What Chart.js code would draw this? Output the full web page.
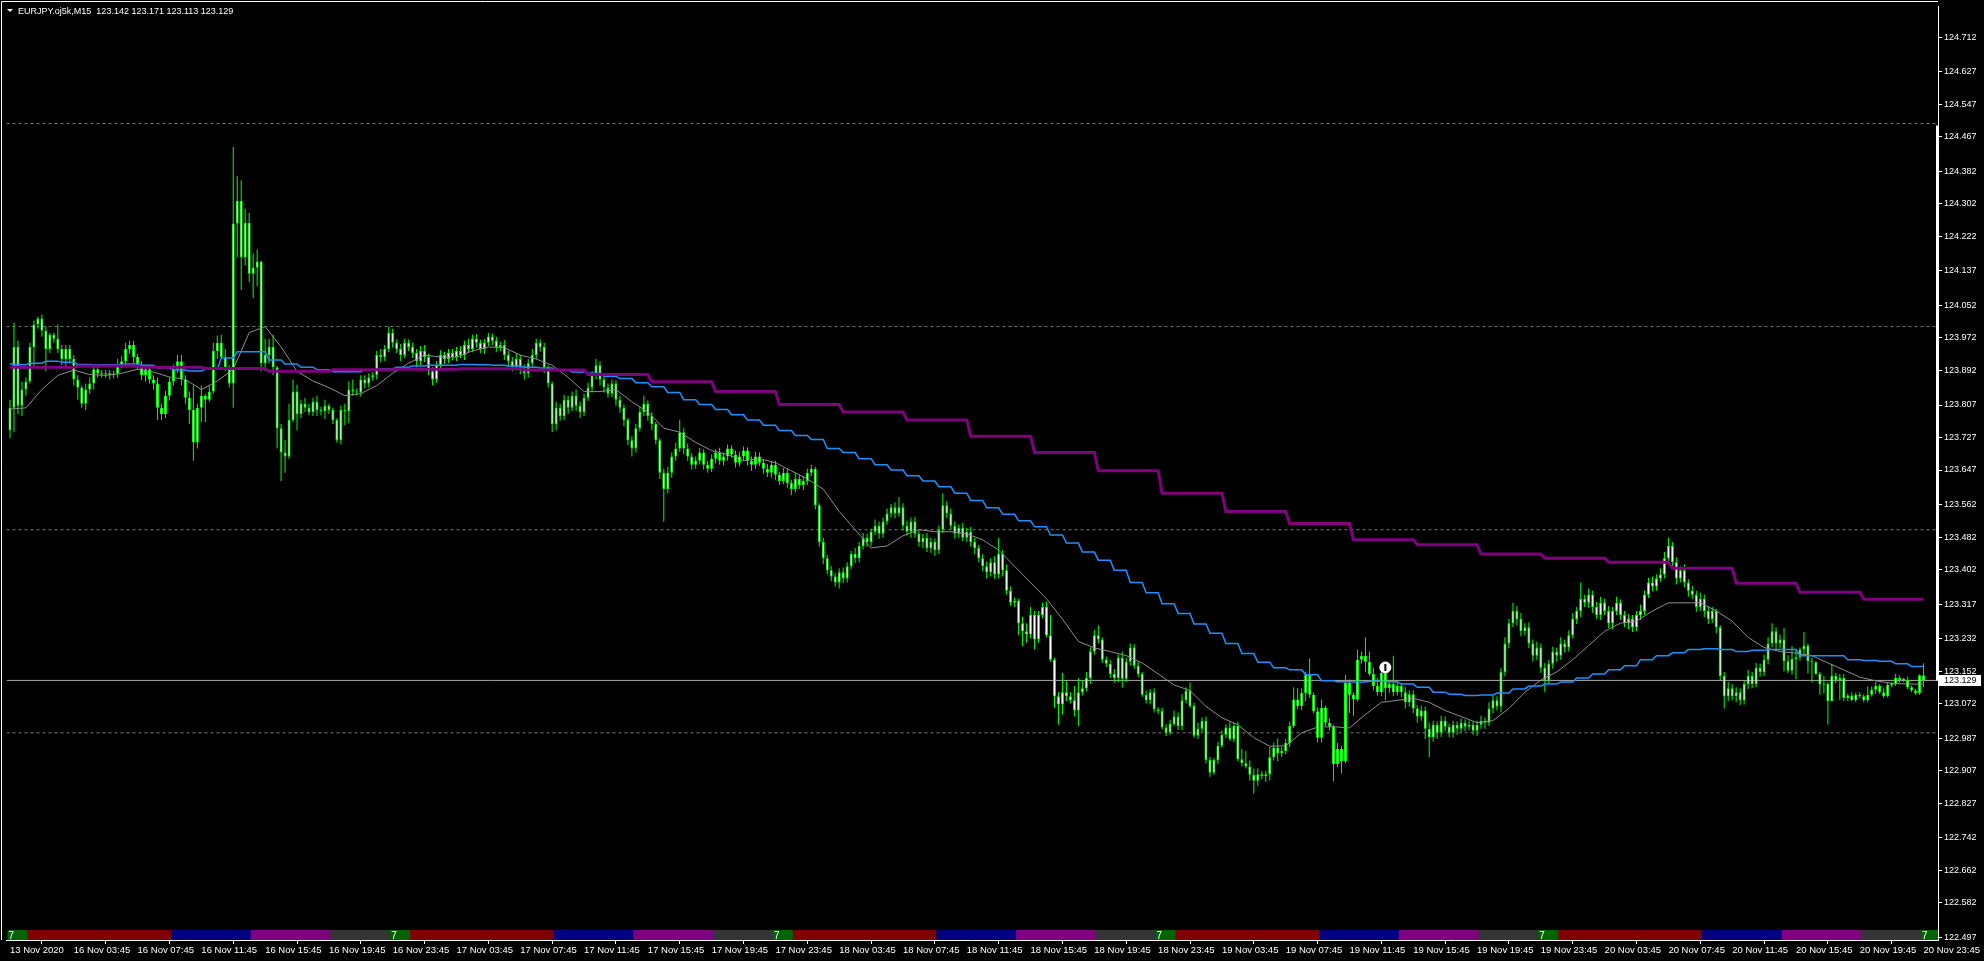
<!DOCTYPE html>
<html lang="en">
<head>
<meta charset="UTF-8">
<title>EURJPY.oj5k,M15</title>
<style>
  html, body { margin: 0; padding: 0; background: #000; overflow: hidden; }
  canvas { display: block; background: #000; }
</style>
</head>
<body>
<canvas id="chart" width="1984" height="961"></canvas>
<script src="https://cdn.jsdelivr.net/npm/chart.js"></script>
<script>
const symbolName = 'EURJPY.oj5k,M15';
const firstOpen = 123.745;

// M15 closes, bar 0 = 13 Nov 23:45, bar 480 = 20 Nov 23:45
const closes = [
  123.800,123.950,123.805,123.845,123.865,123.950,124.005,124.020,123.990,123.945,123.980,123.970,123.945,123.920,123.945,123.920,
  123.870,123.850,123.810,123.845,123.860,123.895,123.885,123.882,123.885,123.880,123.884,123.905,123.915,123.945,123.955,123.925,
  123.905,123.880,123.895,123.870,123.860,123.800,123.785,123.830,123.865,123.895,123.915,123.870,123.825,123.795,123.715,123.800,
  123.830,123.820,123.840,123.940,123.960,123.925,123.900,123.860,124.254,124.310,124.170,124.255,124.130,124.145,124.160,123.910,
  123.930,123.950,123.900,123.750,123.690,123.680,123.770,123.840,123.785,123.810,123.800,123.790,123.815,123.795,123.792,123.805,
  123.795,123.770,123.720,123.795,123.792,123.845,123.840,123.838,123.870,123.860,123.875,123.880,123.930,123.925,123.945,123.985,
  123.960,123.945,123.930,123.960,123.950,123.935,123.915,123.940,123.925,123.890,123.870,123.905,123.930,123.920,123.935,123.925,
  123.940,123.930,123.955,123.945,123.970,123.960,123.945,123.960,123.975,123.965,123.950,123.955,123.930,123.915,123.900,123.920,
  123.895,123.885,123.910,123.930,123.960,123.950,123.900,123.860,123.760,123.800,123.780,123.820,123.800,123.830,123.805,123.790,
  123.825,123.850,123.880,123.905,123.870,123.850,123.835,123.860,123.820,123.800,123.770,123.720,123.700,123.750,123.790,123.810,
  123.780,123.760,123.720,123.640,123.600,123.640,123.680,123.700,123.740,123.700,123.680,123.660,123.670,123.690,123.660,123.650,
  123.675,123.690,123.670,123.680,123.700,123.685,123.665,123.680,123.695,123.670,123.660,123.680,123.665,123.650,123.640,123.660,
  123.635,123.620,123.640,123.615,123.600,123.625,123.610,123.620,123.640,123.650,123.560,123.470,123.430,123.400,123.385,123.370,
  123.395,123.380,123.410,123.440,123.430,123.460,123.480,123.470,123.495,123.510,123.490,123.520,123.540,123.555,123.540,123.555,
  123.510,123.495,123.520,123.490,123.470,123.480,123.455,123.470,123.450,123.500,123.560,123.540,123.510,123.490,123.505,123.480,
  123.495,123.470,123.455,123.430,123.410,123.395,123.420,123.390,123.440,123.400,123.350,123.320,123.325,123.270,123.250,123.242,
  123.290,123.230,123.290,123.310,123.240,123.180,123.090,123.070,123.100,123.090,123.080,123.055,123.100,123.110,123.135,123.200,
  123.240,123.230,123.180,123.170,123.145,123.135,123.185,123.133,123.175,123.210,123.165,123.145,123.094,123.080,123.100,123.058,
  123.054,123.013,123.000,123.022,123.040,123.017,123.080,123.104,123.066,122.993,123.010,123.030,122.933,122.902,122.933,122.968,
  122.995,123.013,122.985,123.017,122.935,122.925,122.917,122.897,122.882,122.898,122.894,122.898,122.940,122.964,122.950,122.955,
  122.975,123.017,123.082,123.066,123.098,123.143,123.094,123.053,122.988,123.062,123.025,123.015,122.923,122.960,122.930,123.123,
  123.094,123.082,123.180,123.190,123.175,123.145,123.115,123.100,123.147,123.110,123.120,123.100,123.115,123.100,123.075,123.095,
  123.060,123.040,123.055,123.010,122.990,123.020,123.000,123.030,123.015,123.000,123.020,123.010,123.025,123.015,123.020,123.005,
  123.020,123.030,123.025,123.060,123.080,123.065,123.150,123.220,123.270,123.300,123.280,123.250,123.260,123.220,123.190,123.210,
  123.160,123.130,123.170,123.200,123.190,123.220,123.210,123.240,123.280,123.300,123.330,123.320,123.340,123.310,123.290,123.320,
  123.300,123.270,123.300,123.320,123.290,123.270,123.280,123.260,123.290,123.300,123.340,123.370,123.360,123.380,123.390,123.430,
  123.460,123.420,123.380,123.400,123.370,123.350,123.340,123.310,123.330,123.300,123.280,123.300,123.260,123.140,123.090,123.110,
  123.090,123.100,123.080,123.120,123.140,123.120,123.160,123.150,123.180,123.220,123.250,123.220,123.230,123.176,123.153,123.182,
  123.186,123.205,123.215,123.176,123.174,123.145,123.119,123.120,123.078,123.140,123.130,123.135,123.086,123.092,123.080,123.094,
  123.090,123.080,123.094,123.106,123.115,123.100,123.090,123.118,123.120,123.135,123.130,123.130,123.112,123.104,123.098,123.142,
  123.129
];

// wick lengths above / below the body, in 0.001
const upWick = [
  20,60,15,20,10,10,10,5,10,10,5,5,35,10,10,10,
  10,10,5,15,15,10,10,8,8,8,8,15,12,15,10,10,
  8,10,10,8,10,15,10,12,10,12,15,15,10,15,60,10,
  25,5,15,20,18,20,20,5,188,60,50,35,25,35,30,2,
  40,20,30,3,10,30,40,30,17,10,15,10,10,15,8,15,
  5,5,5,10,15,20,25,8,10,10,10,8,10,15,10,15,
  10,8,12,10,8,10,10,12,15,8,10,10,12,8,10,10,
  10,12,10,15,10,12,8,10,10,8,10,8,12,10,10,15,
  10,12,10,15,10,8,10,5,5,15,10,12,10,10,15,10,
  10,12,10,15,10,8,10,10,8,10,8,5,10,10,12,20,
  8,10,5,5,10,15,10,15,30,10,12,8,10,12,8,10,
  10,8,12,10,10,8,10,12,10,8,10,12,10,8,12,10,
  10,8,12,10,8,15,10,12,10,10,5,5,10,8,10,8,
  10,12,10,8,15,10,12,10,8,15,10,10,12,8,12,25,
  10,12,10,12,8,10,12,10,8,10,30,10,12,10,8,12,
  10,12,10,8,10,12,10,15,40,10,15,10,8,5,16,20,
  20,10,10,10,13,50,5,10,47,27,10,35,35,20,15,10,
  14,25,5,8,10,12,8,15,10,10,8,10,5,10,8,10,
  5,8,8,10,15,10,15,8,20,8,15,8,10,8,5,10,
  10,8,15,8,10,25,30,15,15,15,8,8,25,12,22,10,
  10,10,30,28,12,8,40,5,10,20,5,10,5,15,8,20,
  8,5,25,10,45,25,15,20,10,5,10,70,10,8,12,10,
  10,8,12,10,15,10,8,12,10,8,10,8,10,8,10,8,
  10,12,8,15,12,10,10,15,10,20,12,15,10,12,10,15,
  10,12,10,12,10,15,10,12,15,10,40,10,15,10,12,15,
  10,12,10,15,8,10,12,10,10,15,10,12,15,10,15,15,
  20,10,12,10,15,8,12,10,15,10,12,10,5,5,10,15,
  10,12,10,8,15,10,12,10,12,15,20,10,12,28,15,31,
  18,5,33,5,8,3,5,20,5,30,8,10,10,5,8,5,
  6,5,20,8,10,5,10,5,5,10,6,5,8,4,4,2,
  29
];
const downWick = [
  20,60,20,25,15,5,50,10,15,55,10,10,10,15,20,10,
  15,30,10,15,10,15,10,8,8,10,8,10,8,10,12,15,
  10,12,15,10,15,30,15,10,12,10,8,15,15,35,45,15,
  35,55,5,5,20,5,10,10,60,84,80,20,20,60,45,20,
  20,20,20,50,70,40,5,5,40,10,10,8,10,15,10,20,
  10,10,5,10,35,30,10,8,10,12,10,8,10,12,10,8,
  12,10,15,8,10,12,15,10,12,10,15,8,10,12,10,8,
  10,8,12,10,8,12,10,12,8,10,12,10,12,15,10,8,
  12,15,10,8,10,12,15,10,20,15,12,10,15,8,12,15,
  10,8,12,10,15,12,10,8,15,12,15,12,20,10,8,10,
  12,15,10,15,80,10,12,10,8,15,10,12,10,8,12,10,
  8,12,10,12,10,8,12,10,10,12,15,10,8,12,10,12,
  12,10,8,12,15,8,10,12,10,8,10,12,15,10,12,10,
  15,12,10,8,12,10,8,12,10,8,12,10,8,10,12,8,
  12,10,15,10,12,15,10,12,15,10,8,12,10,12,10,8,
  10,12,15,10,12,15,10,12,10,15,10,8,10,30,37,20,
  10,25,8,8,5,5,28,50,25,12,8,15,38,8,8,15,
  8,10,8,8,10,12,10,22,8,10,8,8,5,8,10,8,
  8,5,8,5,5,10,10,8,5,5,8,8,8,10,5,10,
  5,8,5,8,5,8,5,15,32,12,8,15,15,8,20,10,
  8,10,5,8,10,20,8,5,12,12,8,10,42,8,30,5,
  45,40,5,10,25,5,10,8,10,30,12,10,8,12,15,10,
  12,15,10,25,50,12,15,10,12,10,12,15,10,12,8,10,
  12,10,15,8,12,10,15,10,12,10,15,12,10,12,15,10,
  12,30,10,12,15,10,12,10,8,12,15,10,12,15,10,12,
  10,12,15,10,12,10,15,12,10,12,10,8,12,10,8,10,
  12,10,15,10,12,15,10,12,10,15,12,10,15,10,30,12,
  10,15,12,10,12,10,8,12,10,12,10,15,12,25,6,10,
  50,8,12,30,50,2,25,22,58,0,8,50,8,8,2,5,
  5,5,5,5,10,5,5,3,5,5,6,5,5,4,4,4,
  16
];

// thin gray MA, read every 4th bar
const grayMA = [
  123.797,123.800,123.845,123.880,123.893,123.882,123.880,123.885,123.895,123.888,123.876,123.870,123.845,123.866,123.895,123.985,
  124.000,123.950,123.890,123.866,123.850,123.830,123.835,123.855,123.885,123.910,123.930,123.925,123.925,123.940,123.950,123.948,
  123.930,123.920,123.905,123.875,123.840,123.840,123.845,123.815,123.790,123.750,123.740,123.715,123.695,123.685,123.670,123.675,
  123.665,123.645,123.625,123.600,123.545,123.500,123.455,123.460,123.485,123.500,123.495,123.495,123.490,123.475,123.450,123.410,
  123.370,123.330,123.280,123.225,123.209,123.200,123.190,123.172,123.145,123.118,123.104,123.065,123.037,123.020,122.988,122.967,
  122.968,123.000,123.014,123.015,123.012,123.045,123.075,123.080,123.085,123.075,123.055,123.040,123.025,123.030,123.060,123.100,
  123.130,123.150,123.180,123.215,123.250,123.270,123.275,123.300,123.320,123.320,123.320,123.300,123.275,123.235,123.210,123.200,
  123.196,123.190,123.172,123.155,123.137,123.128,123.122,123.120,123.120
];
// blue H1 MA, one value per hour (bar 0, then 4 bars each)
const blueMA = [
  123.909,123.906,123.910,123.915,123.912,123.907,123.906,123.906,123.908,123.905,123.898,123.893,123.891,123.895,123.923,123.938,
  123.938,123.918,123.908,123.900,123.894,123.889,123.889,123.894,123.896,123.900,123.903,123.905,123.905,123.907,123.906,123.905,
  123.903,123.900,123.898,123.893,123.888,123.885,123.878,123.872,123.862,123.852,123.838,123.820,123.808,123.796,123.783,123.770,
  123.757,123.744,123.732,123.722,123.700,123.690,123.675,123.660,123.647,123.633,123.620,123.606,123.590,123.572,123.554,123.538,
  123.522,123.507,123.487,123.467,123.445,123.425,123.400,123.370,123.345,123.318,123.294,123.268,123.245,123.220,123.195,123.174,
  123.160,123.155,123.143,123.128,123.126,123.125,123.127,123.126,123.120,123.112,123.100,123.095,123.092,123.093,123.098,123.108,
  123.115,123.120,123.125,123.135,123.145,123.155,123.165,123.180,123.190,123.197,123.205,123.207,123.205,123.200,123.203,123.205,
  123.205,123.190,123.190,123.190,123.180,123.178,123.176,123.170,123.163
];
// purple H4 MA, one value per 4 hours (bar 0, then 16 bars each)
const purpleMA = [
  123.900,123.900,123.903,123.900,123.897,123.890,123.894,123.895,123.896,123.893,123.882,123.864,123.840,123.808,123.790,123.770,
  123.730,123.690,123.645,123.590,123.545,123.515,123.475,123.463,123.440,123.430,123.420,123.405,123.368,123.346,123.329
];

const gridLevels = [124.5, 124.0, 123.5, 123.0];
const priceTicks = [124.712,124.627,124.547,124.467,124.382,124.302,124.222,124.137,124.052,123.972,123.892,123.807,123.727,123.647,
  123.562,123.482,123.402,123.317,123.232,123.152,123.072,122.987,122.907,122.827,122.742,122.662,122.582,122.497];
const timeLabels = ['13 Nov 2020',
  '16 Nov 03:45','16 Nov 07:45','16 Nov 11:45','16 Nov 15:45','16 Nov 19:45','16 Nov 23:45',
  '17 Nov 03:45','17 Nov 07:45','17 Nov 11:45','17 Nov 15:45','17 Nov 19:45','17 Nov 23:45',
  '18 Nov 03:45','18 Nov 07:45','18 Nov 11:45','18 Nov 15:45','18 Nov 19:45','18 Nov 23:45',
  '19 Nov 03:45','19 Nov 07:45','19 Nov 11:45','19 Nov 15:45','19 Nov 19:45','19 Nov 23:45',
  '20 Nov 03:45','20 Nov 07:45','20 Nov 11:45','20 Nov 15:45','20 Nov 19:45','20 Nov 23:45'];

// trading sessions strip (bars per session, one day = 96 bars)
const sessionLen = [5, 36, 20, 20, 15];
const sessionColors = ['#006400', '#800000', '#000080', '#800080', '#353535'];
const sessionText = '7';

const rangeTop = 124.495;
const eventBars = [345];
const eventPrices = [123.161];

// ---- scale geometry
const xMin = -0.875, xMax = 483.625;
const yMin = 122.490, yMax = 124.788;
const stripTop = 122.5145;

const candles = closes.map((c, i) => {
  const o = i === 0 ? firstOpen : closes[i - 1];
  const top = Math.max(o, c), bot = Math.min(o, c);
  return { o: o, c: c, h: top + upWick[i] / 1000, l: bot - downWick[i] / 1000 };
});
const last = candles[candles.length - 1];

const dayBars = sessionLen.reduce((a, b) => a + b, 0);
const sessionData = [], sessionFill = [], sessionStarts = [];
for (let i = 0; i <= 484; i++) {
  let d = i % dayBars, s = 0;
  if (d === 0) sessionStarts.push(i);
  while (d >= sessionLen[s]) { d -= sessionLen[s]; s++; }
  sessionData.push({ x: i, y: [yMin, stripTop] });
  sessionFill.push(sessionColors[s]);
}

const LIME = '#00ff00';

const decor = {
  id: 'decor',
  afterDraw(chart) {
    const { ctx, chartArea: a, scales: { x, y } } = chart;
    ctx.save();
    ctx.strokeStyle = '#ffffff';
    ctx.lineWidth = 1;
    ctx.beginPath();
    ctx.moveTo(1.5, a.bottom); ctx.lineTo(1.5, 1.5); ctx.lineTo(a.right, 1.5);
    ctx.stroke();

    // "7" markers on the session strip
    ctx.fillStyle = '#ffffff';
    ctx.font = "10px 'Liberation Sans', Arial, sans-serif";
    ctx.textBaseline = 'alphabetic';
    ctx.textAlign = 'left';
    sessionStarts.forEach(i => {
      ctx.fillText(sessionText, x.getPixelForValue(i) - 1.5, a.bottom - 1.5);
    });

    // thick range bar on the price scale
    const yt = y.getPixelForValue(rangeTop), yb = y.getPixelForValue(last.c);
    ctx.fillRect(a.right - 2, yt, 3, yb - yt);

    // current price label
    const py = Math.round(y.getPixelForValue(last.c));
    ctx.fillRect(a.right + 1, py - 5, 42, 11);
    ctx.fillStyle = '#000000';
    ctx.font = "9px 'Liberation Sans', Arial, sans-serif";
    ctx.textBaseline = 'middle';
    ctx.fillText(last.c.toFixed(3), a.right + 6, py + 0.5);

    // header
    ctx.fillStyle = '#ffffff';
    ctx.beginPath();
    ctx.moveTo(7, 9); ctx.lineTo(13, 9); ctx.lineTo(10, 12); ctx.closePath();
    ctx.fill();
    ctx.font = "9px 'Liberation Sans', Arial, sans-serif";
    ctx.textBaseline = 'alphabetic';
    const head = symbolName + '  ' + [last.o, last.h, last.l, last.c].map(v => v.toFixed(3)).join(' ');
    ctx.fillText(head, 18, 14);
    ctx.restore();
  }
};

const ctx = document.getElementById('chart');
const axisGrid = { display: true, drawOnChartArea: false, drawTicks: true, tickLength: 4, tickColor: '#ffffff', tickWidth: 1 };
const axisBorder = { display: true, color: '#ffffff', width: 1 };

new Chart(ctx, {
  data: {
    datasets: [
      { type: 'bar', label: 'sessions', data: sessionData, backgroundColor: sessionFill, borderWidth: 0,
        barThickness: 5, grouped: false, inflateAmount: 0, order: 10 },
      ...gridLevels.map(v => ({ type: 'line', label: 'grid', data: [{ x: xMin, y: v }, { x: xMax, y: v }],
        borderColor: '#7a7a7a', borderWidth: 1, borderDash: [3, 3], pointRadius: 0, order: 9 })),
      { type: 'line', label: 'bid', data: [{ x: xMin, y: last.c }, { x: xMax, y: last.c }],
        borderColor: '#a8a8a8', borderWidth: 1, pointRadius: 0, order: 8 },
      { type: 'bar', label: 'wicks', data: candles.map((k, i) => ({ x: i, y: [k.l, k.h] })),
        backgroundColor: LIME, borderWidth: 0, barThickness: 1, grouped: false, inflateAmount: 0, minBarLength: 1, order: 7 },
      { type: 'bar', label: 'bodies', data: candles.map((k, i) => ({ x: i, y: [k.o, k.c] })),
        backgroundColor: '#ffffff', borderColor: LIME, borderWidth: 1, borderSkipped: false,
        barThickness: 3, grouped: false, inflateAmount: 0, minBarLength: 1, order: 6 },
      { type: 'line', label: 'MA', data: grayMA.map((v, k) => ({ x: k * 4, y: v })),
        borderColor: '#8e8e8e', borderWidth: 1, pointRadius: 0, tension: 0, order: 5 },
      { type: 'line', label: 'MA H1', data: closes.map((_, i) => ({ x: i, y: blueMA[Math.ceil(i / 4)] })),
        borderColor: '#1e90ff', borderWidth: 1.5, pointRadius: 0, tension: 0, order: 4 },
      { type: 'line', label: 'MA H4', data: closes.map((_, i) => ({ x: i, y: purpleMA[Math.ceil(i / 16)] })),
        borderColor: '#800080', borderWidth: 3, pointRadius: 0, tension: 0, order: 3 },
      { type: 'scatter', label: 'event', data: eventBars.map((b, k) => ({ x: b, y: eventPrices[k] })),
        pointStyle: 'circle', pointRadius: 5.5, backgroundColor: '#ffffff', borderColor: '#ffffff', borderWidth: 1, order: 2 },
      { type: 'scatter', label: 'event mark', data: eventBars.map((b, k) => ({ x: b, y: eventPrices[k] })),
        pointStyle: 'line', rotation: 90, pointRadius: 3.5, borderColor: '#000000', borderWidth: 2, order: 1 }
    ]
  },
  options: {
    responsive: false,
    animation: false,
    events: [],
    layout: { padding: { top: 2, left: 0, right: 0, bottom: 0 } },
    plugins: { legend: { display: false }, tooltip: { enabled: false } },
    scales: {
      x: {
        type: 'linear', min: xMin, max: xMax, bounds: 'data', offset: false,
        grid: axisGrid, border: axisBorder,
        ticks: {
          autoSkip: false, maxRotation: 0, minRotation: 0, align: 'start', padding: 1, color: '#ffffff',
          font: { family: "'Liberation Sans', Arial, sans-serif", size: 9.5 },
          callback: (v, i) => timeLabels[i]
        },
        afterBuildTicks: s => { s.ticks = timeLabels.map((_, k) => ({ value: k * 16 })); },
        afterFit: s => { s.height = 21; s.paddingLeft = 0; s.paddingRight = 0; }
      },
      y: {
        type: 'linear', position: 'right', min: yMin, max: yMax, bounds: 'data',
        grid: axisGrid, border: axisBorder,
        ticks: {
          autoSkip: false, padding: 2, color: '#ffffff',
          font: { family: "'Liberation Sans', Arial, sans-serif", size: 9 },
          callback: v => v.toFixed(3)
        },
        afterBuildTicks: s => { s.ticks = priceTicks.map(v => ({ value: v })); },
        afterFit: s => { s.width = 46; s.paddingTop = 0; s.paddingBottom = 0; }
      }
    }
  },
  plugins: [decor]
});
</script>
</body>
</html>
